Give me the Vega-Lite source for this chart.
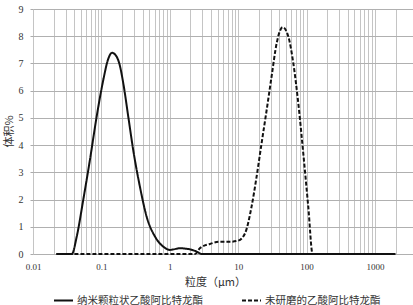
{
  "$schema": "https://vega.github.io/schema/vega-lite/v6.json",
  "width": 380,
  "height": 245,
  "autosize": {"type": "none"},
  "padding": {"left": 33, "top": 9, "right": 0, "bottom": 51},
  "background": "white",
  "config": {"view": {"stroke": null}},
  "data": {
    "values": [
      {"s": "纳米颗粒状乙酸阿比特龙酯", "d": 0.022, "v": 0},
      {"s": "纳米颗粒状乙酸阿比特龙酯", "d": 0.037, "v": 0},
      {"s": "纳米颗粒状乙酸阿比特龙酯", "d": 0.0436, "v": 0.64},
      {"s": "纳米颗粒状乙酸阿比特龙酯", "d": 0.0543, "v": 1.99},
      {"s": "纳米颗粒状乙酸阿比特龙酯", "d": 0.068, "v": 3.46},
      {"s": "纳米颗粒状乙酸阿比特龙酯", "d": 0.0853, "v": 5.05},
      {"s": "纳米颗粒状乙酸阿比特龙酯", "d": 0.1067, "v": 6.4},
      {"s": "纳米颗粒状乙酸阿比特龙酯", "d": 0.126, "v": 7.17},
      {"s": "纳米颗粒状乙酸阿比特龙酯", "d": 0.143, "v": 7.39},
      {"s": "纳米颗粒状乙酸阿比特龙酯", "d": 0.162, "v": 7.3},
      {"s": "纳米颗粒状乙酸阿比特龙酯", "d": 0.185, "v": 6.95},
      {"s": "纳米颗粒状乙酸阿比特龙酯", "d": 0.209, "v": 6.27},
      {"s": "纳米颗粒状乙酸阿比特龙酯", "d": 0.247, "v": 5.05},
      {"s": "纳米颗粒状乙酸阿比特龙酯", "d": 0.292, "v": 3.82},
      {"s": "纳米颗粒状乙酸阿比特龙酯", "d": 0.366, "v": 2.47},
      {"s": "纳米颗粒状乙酸阿比特龙酯", "d": 0.459, "v": 1.37},
      {"s": "纳米颗粒状乙酸阿比特龙酯", "d": 0.608, "v": 0.64},
      {"s": "纳米颗粒状乙酸阿比特龙酯", "d": 0.804, "v": 0.27},
      {"s": "纳米颗粒状乙酸阿比特龙酯", "d": 1.0, "v": 0.15},
      {"s": "纳米颗粒状乙酸阿比特龙酯", "d": 1.41, "v": 0.21},
      {"s": "纳米颗粒状乙酸阿比特龙酯", "d": 1.97, "v": 0.17},
      {"s": "纳米颗粒状乙酸阿比特龙酯", "d": 2.47, "v": 0.09},
      {"s": "纳米颗粒状乙酸阿比特龙酯", "d": 2.92, "v": 0},
      {"s": "纳米颗粒状乙酸阿比特龙酯", "d": 2000, "v": 0},
      {"s": "未研磨的乙酸阿比特龙酯", "d": 0.022, "v": 0},
      {"s": "未研磨的乙酸阿比特龙酯", "d": 2.34, "v": 0},
      {"s": "未研磨的乙酸阿比特龙酯", "d": 2.75, "v": 0.21},
      {"s": "未研磨的乙酸阿比特龙酯", "d": 3.87, "v": 0.37},
      {"s": "未研磨的乙酸阿比特龙酯", "d": 5.42, "v": 0.45},
      {"s": "未研磨的乙酸阿比特龙酯", "d": 7.59, "v": 0.45},
      {"s": "未研磨的乙酸阿比特龙酯", "d": 10, "v": 0.49},
      {"s": "未研磨的乙酸阿比特龙酯", "d": 12.6, "v": 0.76},
      {"s": "未研磨的乙酸阿比特龙酯", "d": 15.7, "v": 1.74},
      {"s": "未研磨的乙酸阿比特龙酯", "d": 18.6, "v": 2.84},
      {"s": "未研磨的乙酸阿比特龙酯", "d": 22.0, "v": 4.07},
      {"s": "未研磨的乙酸阿比特龙酯", "d": 26.1, "v": 5.29},
      {"s": "未研磨的乙酸阿比特龙酯", "d": 30.8, "v": 6.52},
      {"s": "未研磨的乙酸阿比特龙酯", "d": 36.6, "v": 7.75},
      {"s": "未研磨的乙酸阿比特龙酯", "d": 44.7, "v": 8.33},
      {"s": "未研磨的乙酸阿比特龙酯", "d": 54.1, "v": 7.99},
      {"s": "未研磨的乙酸阿比特龙酯", "d": 64.0, "v": 7.01},
      {"s": "未研磨的乙酸阿比特龙酯", "d": 75.7, "v": 5.54},
      {"s": "未研磨的乙酸阿比特龙酯", "d": 89.5, "v": 3.7},
      {"s": "未研磨的乙酸阿比特龙酯", "d": 105.9, "v": 1.74},
      {"s": "未研磨的乙酸阿比特龙酯", "d": 122.7, "v": 0},
      {"s": "未研磨的乙酸阿比特龙酯", "d": 2000, "v": 0}
    ]
  },
  "mark": {"type": "line", "interpolate": "monotone", "stroke": "#111111", "strokeWidth": 2},
  "encoding": {
    "x": {
      "field": "d",
      "type": "quantitative",
      "scale": {"type": "log", "domain": [0.01, 3600], "nice": false},
      "axis": {
        "values": [0.01,0.02,0.03,0.04,0.05,0.06,0.07,0.08,0.09,0.1,0.2,0.3,0.4,0.5,0.6,0.7,0.8,0.9,1,2,3,4,5,6,7,8,9,10,20,30,40,50,60,70,80,90,100,200,300,400,500,600,700,800,900,1000,2000],
        "labelExpr": "abs(log(datum.value)/LN10 - round(log(datum.value)/LN10)) < 1e-6 ? format(datum.value, '~g') : ''",
        "labelOverlap": false,
        "labelFlush": false,
        "labelFont": "Liberation Serif",
        "labelFontSize": 9,
        "labelColor": "#333333",
        "labelPadding": 8,
        "ticks": false,
        "domain": false,
        "grid": true,
        "gridColor": "#c4c4c4",
        "gridWidth": 1,
        "title": "粒度（μm）",
        "titleFont": "Noto Sans CJK SC",
        "titleFontSize": 11,
        "titleFontWeight": "normal",
        "titleColor": "#333333",
        "titleX": 182,
        "titleY": 28,
        "titleAlign": "center",
        "titleBaseline": "middle"
      }
    },
    "y": {
      "field": "v",
      "type": "quantitative",
      "scale": {"domain": [0, 9], "nice": false},
      "axis": {
        "values": [0,1,2,3,4,5,6,7,8,9],
        "labelFont": "Liberation Serif",
        "labelFontSize": 10,
        "labelColor": "#333333",
        "labelPadding": 7,
        "tickSize": 3,
        "tickColor": "#aaaaaa",
        "domain": false,
        "grid": true,
        "gridColor": "#b0b0b0",
        "gridWidth": 1,
        "title": "体积%",
        "titleFont": "Noto Sans CJK SC",
        "titleFontSize": 11,
        "titleFontWeight": "normal",
        "titleColor": "#333333",
        "titleX": -24,
        "titleY": 122,
        "titleAlign": "center",
        "titleBaseline": "middle",
        "titleAngle": -90
      }
    },
    "strokeDash": {
      "field": "s",
      "type": "nominal",
      "scale": {"domain": ["纳米颗粒状乙酸阿比特龙酯", "未研磨的乙酸阿比特龙酯"], "range": [[1, 0], [4, 2]]},
      "legend": {
        "title": null,
        "orient": "none",
        "direction": "horizontal",
        "legendX": 20,
        "legendY": 281,
        "symbolType": "stroke",
        "symbolSize": 361,
        "symbolStrokeWidth": 2,
        "symbolStrokeColor": "#111111",
        "labelFont": "Noto Sans CJK SC",
        "labelFontSize": 10.5,
        "labelColor": "#333333",
        "labelOffset": 3,
        "columnPadding": 35,
        "labelLimit": 300
      }
    }
  }
}
